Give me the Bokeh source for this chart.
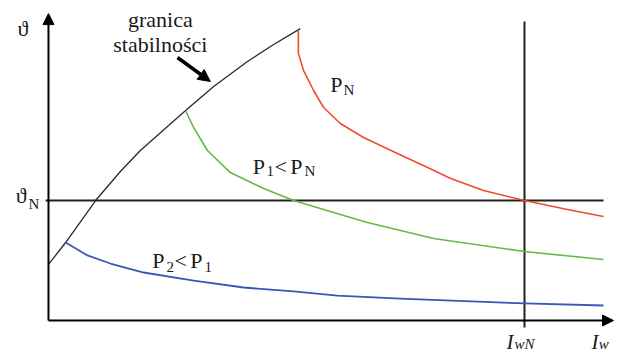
from bokeh.plotting import figure
from bokeh.models import Range1d, Arrow, NormalHead
from bokeh.core.properties import value
from bokeh.embed import file_html
from bokeh.resources import INLINE

# Normalised units: I_w / I_wN (x) and theta / theta_N (y)
I_wN = 1.0
theta_N = 1.0

boundary_x = [0.0, 0.036, 0.099, 0.151, 0.193, 0.250, 0.288, 0.347, 0.418, 0.473, 0.529]
boundary_y = [0.467, 0.650, 1.0, 1.242, 1.417, 1.617, 1.750, 1.950, 2.158, 2.300, 2.433]

pn_x = [0.525, 0.525, 0.536, 0.557, 0.578, 0.613, 0.662, 0.733, 0.792, 0.845, 0.914, 1.0, 1.090, 1.166]
pn_y = [2.417, 2.225, 2.083, 1.917, 1.775, 1.642, 1.525, 1.392, 1.283, 1.183, 1.083, 1.0, 0.925, 0.867]

p1_x = [0.288, 0.305, 0.334, 0.382, 0.452, 0.515, 0.599, 0.670, 0.809, 1.0, 1.166]
p1_y = [1.750, 1.608, 1.417, 1.233, 1.100, 1.0, 0.900, 0.817, 0.683, 0.575, 0.508]

p2_x = [0.036, 0.082, 0.130, 0.200, 0.305, 0.410, 0.515, 0.607, 0.739, 1.0, 1.166]
p2_y = [0.650, 0.542, 0.475, 0.400, 0.333, 0.275, 0.242, 0.208, 0.183, 0.142, 0.125]

x_max = 1.187
y_max = 2.558
line_end = 1.166

SERIF = value("Liberation Serif")

p = figure(width=621, height=356, x_range=Range1d(-0.1008, 1.2038), y_range=Range1d(-0.3, 2.667),
           x_axis_location=None, y_axis_location=None, toolbar_location=None,
           output_backend="svg", min_border=0)
p.outline_line_color = None
p.grid.visible = False
p.background_fill_color = "white"

# reference lines
p.line([-0.006, line_end], [theta_N, theta_N], line_color="#222222", line_width=2)
p.line([I_wN, I_wN], [-0.058, 2.492], line_color="#222222", line_width=2)

# curves
p.line(boundary_x, boundary_y, line_color="#2a2a2a", line_width=1.3, line_join="round")
p.line(pn_x, pn_y, line_color="#f24a30", line_width=1.6, line_join="round")
p.line(p1_x, p1_y, line_color="#62bb48", line_width=1.6, line_join="round")
p.line(p2_x, p2_y, line_color="#3a56b8", line_width=1.8, line_join="round")

# axes with arrows
p.add_layout(Arrow(x_start=0, y_start=0, x_end=0, y_end=y_max, line_width=2, line_color="black",
                   end=NormalHead(size=11, fill_color="black", line_color="black", line_width=1)))
p.add_layout(Arrow(x_start=0, y_start=0, x_end=x_max, y_end=0, line_width=2, line_color="black",
                   end=NormalHead(size=11, fill_color="black", line_color="black", line_width=1)))

# pointer arrow for "granica stabilności"
p.add_layout(Arrow(x_start=0.271, y_start=2.192, x_end=0.340, y_end=1.992, line_width=3.5,
                   line_color="black",
                   end=NormalHead(size=12, fill_color="black", line_color="black", line_width=1)))

def txt(x, y, s, size, align="left", style="normal"):
    p.text(x=[x], y=[y], text=[s], text_font=SERIF, text_font_size=f"{size}px",
           text_align=align, text_baseline="alphabetic", text_color="#1a1a1a",
           text_font_style=style)

txt(-0.065, 2.435, "ϑ", 22)
txt(0.235, 2.508, "granica", 22, align="center")
txt(0.235, 2.300, "stabilności", 22, align="center")

txt(0.592, 1.967, "P", 22)
txt(0.620, 1.925, "N", 15)

txt(0.429, 1.283, "P", 22)
txt(0.458, 1.242, "1", 15)
txt(0.475, 1.283, "<", 22)
txt(0.508, 1.283, "P", 22)
txt(0.538, 1.242, "N", 15)

txt(0.218, 0.500, "P", 22)
txt(0.248, 0.450, "2", 15)
txt(0.265, 0.500, "<", 22)
txt(0.298, 0.500, "P", 22)
txt(0.328, 0.450, "1", 15)

txt(-0.069, 1.040, "ϑ", 22)
txt(-0.042, 0.975, "N", 15)

txt(0.962, -0.179, "I", 21, style="italic")
txt(0.979, -0.195, "wN", 15, style="italic")
txt(1.141, -0.179, "I", 21, style="italic")
txt(1.156, -0.195, "w", 15, style="italic")

open("out.html", "w").write(file_html(p, INLINE))
